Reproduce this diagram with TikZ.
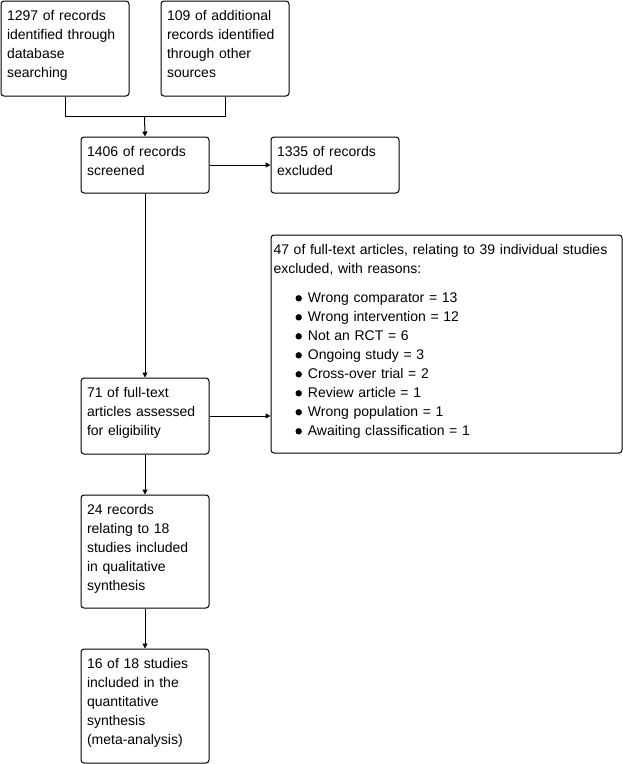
\documentclass[tikz,border=0pt]{standalone}
\usepackage{fontspec}
\setmainfont{Liberation Sans}
\usetikzlibrary{arrows.meta,positioning,calc}

\newcommand{\reason}[1]{\hspace*{22pt}\tikz[baseline=-3.7pt]\fill (0,0) circle (3.2pt);\hspace{6pt}#1}

\begin{document}
\begin{tikzpicture}[
      x=1pt,y=-1pt,
      box/.style={draw,line width=1pt,rounded corners=3pt,anchor=north west,
        align=left,inner xsep=6pt,inner ysep=0pt,text height=19pt,
        text width=116pt,font=\fontsize{14}{19}\selectfont},
      arrow/.style={-{Triangle[length=5pt,width=5pt]},line width=1pt}
    ]
      \useasboundingbox (0,0) rectangle (623,764);
      \node[box,text depth=76pt] (ident) at (0.5,0.5)
        {1297 of records\\identified through\\database\\searching};
      \node[box,text depth=76pt] (other) at (160.5,0.5)
        {109 of additional\\records identified\\through other\\sources};
      \node[box,text depth=37pt] (screen) at (80.5,136.5)
        {1406 of records\\screened};
      \node[box,text depth=37pt] (recexcl) at (270.5,136.5)
        {1335 of records\\excluded};
      \node[box,text depth=199pt,text width=346pt,inner xsep=2.5pt] (ftexcl) at (270.5,234.5)
        {47 of full-text articles, relating to 39 individual studies\\
         excluded, with reasons:\\[10pt]
         \reason{Wrong comparator = 13}\\
         \reason{Wrong intervention = 12}\\
         \reason{Not an RCT = 6}\\
         \reason{Ongoing study = 3}\\
         \reason{Cross-over trial = 2}\\
         \reason{Review article = 1}\\
         \reason{Wrong population = 1}\\
         \reason{Awaiting classification = 1}};
      \node[box,text depth=57pt] (elig) at (80.5,377.5)
        {71 of full-text\\articles assessed\\for eligibility};
      \node[box,text depth=94pt] (qual) at (80.5,494.5)
        {24 records\\relating to 18\\studies included\\in qualitative\\synthesis};
      \node[box,text depth=95pt] (quant) at (80.5,648.5)
        {16 of 18 studies\\included in the\\quantitative\\synthesis\\(meta-analysis)};
      \coordinate (join) at (144.5,116);
      \draw[line width=1pt] (ident.south) |- (join);
      \draw[line width=1pt] (other.south) |- (join);
      \draw[arrow] (join)--(screen.north);
      \draw[arrow] (screen)--(recexcl);
      \draw[arrow] (screen)--(elig);
      \draw[arrow] (elig.east)--(elig.east-|ftexcl.west);
      \draw[arrow] (elig)--(qual);
      \draw[arrow] (qual)--(quant);
    \end{tikzpicture}
\end{document}
